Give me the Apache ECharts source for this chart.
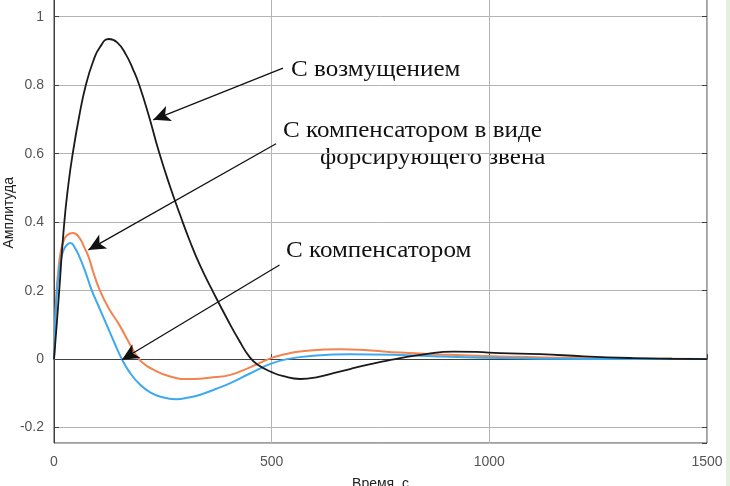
<!DOCTYPE html>
<html lang="ru">
<head>
    <meta charset="UTF-8">
    <title>Амплитуда</title>
    <script src="https://cdn.jsdelivr.net/npm/echarts@6/dist/echarts.min.js"></script>
    <style>
        html, body { margin: 0; padding: 0; background: #fff; }
    </style>
</head>
<body>
    <div id="main" style="width: 730px;height:486px;"></div>
    <script type="text/javascript">
        // (time, amplitude)
        var blackT = [0, 5, 12, 23, 33, 43, 58, 73, 90, 105, 126, 145, 165, 182, 196, 218, 240, 265, 290, 312, 336, 366, 400, 425, 450, 470, 500, 527, 565, 600, 642, 680, 719, 760, 795, 850, 917, 970, 1025, 1117, 1217, 1331, 1420, 1500];
        var blackV = [0, 0.08, 0.2, 0.39, 0.51, 0.6, 0.71, 0.8, 0.87, 0.91, 0.935, 0.925, 0.89, 0.845, 0.8, 0.71, 0.61, 0.51, 0.42, 0.345, 0.272, 0.195, 0.112, 0.055, 0.005, -0.018, -0.038, -0.05, -0.058, -0.054, -0.041, -0.029, -0.017, -0.006, 0.003, 0.014, 0.022, 0.021, 0.0175, 0.0146, 0.008, 0.003, 0.001, 0];

        var orangeT = [0, 2, 4, 6, 10, 15, 22, 30, 44, 58, 70, 79, 90, 104, 125, 150, 175, 194, 205, 221, 267, 308, 336, 366, 405, 450, 497, 530, 565, 657, 720, 795, 910, 1025, 1150, 1300, 1500];
        var orangeV = [0, 0.08, 0.15, 0.2, 0.26, 0.31, 0.345, 0.362, 0.368, 0.355, 0.325, 0.3, 0.255, 0.205, 0.15, 0.1, 0.042, 0.002, -0.012, -0.026, -0.051, -0.058, -0.057, -0.053, -0.046, -0.024, 0.002, 0.014, 0.022, 0.029, 0.026, 0.019, 0.0125, 0.008, 0.004, 0.0015, 0];

        var blueT = [0, 2, 4, 7, 10, 15, 22, 30, 38, 48, 58, 72, 87, 104, 121, 138, 156, 175, 198, 221, 245, 280, 310, 336, 370, 405, 450, 497, 535, 589, 680, 795, 910, 1025, 1150, 1300, 1500];
        var blueV = [0, 0.075, 0.14, 0.2, 0.24, 0.285, 0.318, 0.334, 0.339, 0.325, 0.3, 0.255, 0.2, 0.15, 0.1, 0.05, 0, -0.041, -0.075, -0.097, -0.11, -0.117, -0.112, -0.104, -0.088, -0.07, -0.042, -0.014, 0, 0.009, 0.014, 0.012, 0.007, 0.003, 0.001, 0, 0];

        var xTicks = [0, 500, 1000, 1500];

        // arrows: [from, to] in data units
        var arrows = [
            [[526, 0.85], [228, 0.699]],
            [[510, 0.629], [79, 0.319]],
            [[518, 0.275], [156, -0.002]]
        ];

        function pairs(t, v) {
            var out = [];
            for (var i = 0; i < t.length; i++) {
                out.push([t[i], v[i]]);
            }
            return out;
        }

        var myChart = echarts.init(document.getElementById('main'));

        var serifFont = '"Liberation Serif", "DejaVu Serif", serif';
        function anno(text, left, top) {
            return {
                type: 'text', left: left, top: top, scaleX: 1.09,
                style: { text: text, fill: '#111', fontFamily: serifFont, fontSize: 23 }
            };
        }

        var option = {
            animation: false,
            backgroundColor: '#fff',
            textStyle: { fontFamily: '"Liberation Sans", Arial, sans-serif' },
            grid: {
                left: 54,
                right: 23,
                top: -17.5,
                bottom: 43,
                containLabel: false,
                outerBoundsMode: 'none',
                show: true,
                borderColor: '#404040',
                borderWidth: 1
            },
            xAxis: {
                type: 'value',
                min: xTicks[0],
                max: xTicks[xTicks.length - 1],
                interval: 500,
                name: 'Время, с',
                nameLocation: 'middle',
                nameGap: 34,
                nameMoveOverlap: false,
                nameTextStyle: { color: '#222', fontSize: 14 },
                axisLine: { lineStyle: { color: '#404040', width: 1 } },
                axisTick: { inside: true, length: 5, lineStyle: { color: '#404040' } },
                axisLabel: { color: '#555', fontSize: 14, margin: 12, formatter: function (v) { return String(v); } },
                splitLine: { show: true, lineStyle: { color: '#b4b4b4', width: 1 } }
            },
            yAxis: [
                {
                    type: 'value',
                    min: -0.245,
                    max: 1.1,
                    splitNumber: 7,
                    name: 'Амплитуда',
                    nameLocation: 'middle',
                    nameGap: 38,
                    nameMoveOverlap: false,
                    nameTextStyle: { color: '#222', fontSize: 14 },
                    axisLine: { show: true, lineStyle: { color: '#404040', width: 1 } },
                    axisTick: { show: true, inside: true, length: 5, lineStyle: { color: '#404040' } },
                    axisLabel: { color: '#555', fontSize: 14, margin: 10, showMinLabel: false, showMaxLabel: false },
                    splitLine: { show: true, lineStyle: { color: '#b4b4b4', width: 1 } }
                },
                {
                    type: 'value',
                    position: 'right',
                    min: -0.245,
                    max: 1.1,
                    splitNumber: 7,
                    axisLine: { show: false },
                    axisTick: { show: true, inside: true, length: 5, lineStyle: { color: '#404040' } },
                    axisLabel: { show: false },
                    splitLine: { show: false }
                }
            ],
            series: [
                {
                    name: 'С компенсатором в виде форсирующего звена',
                    type: 'line',
                    data: pairs(orangeT, orangeV),
                    smooth: 0.5,
                    showSymbol: false,
                    lineStyle: { color: '#f3834f', width: 2 }
                },
                {
                    name: 'С компенсатором',
                    type: 'line',
                    data: pairs(blueT, blueV),
                    smooth: 0.5,
                    showSymbol: false,
                    lineStyle: { color: '#3ea9ef', width: 2 }
                },
                {
                    name: 'С возмущением',
                    type: 'line',
                    data: pairs(blackT, blackV),
                    smooth: 0.5,
                    showSymbol: false,
                    lineStyle: { color: '#1a1a1a', width: 1.8 },
                    markLine: {
                        silent: true,
                        symbol: ['none', 'arrow'],
                        symbolSize: [12, 17],
                        label: { show: false },
                        lineStyle: { color: '#111', width: 1.3, type: 'solid' },
                        data: arrows.map(function (a) {
                            return [{ coord: a[0] }, { coord: a[1] }];
                        })
                    }
                }
            ],
            graphic: [
                anno('С возмущением', 291, 58),
                anno('С компенсатором в виде', 283, 119),
                anno('форсирующего звена', 320, 146),
                anno('С компенсатором', 286, 239),
                { type: 'rect', right: 0, top: 0, shape: { width: 4, height: 486 }, style: { fill: '#e2f1de' } }
            ]
        };

        myChart.setOption(option);
    </script>
</body>
</html>
